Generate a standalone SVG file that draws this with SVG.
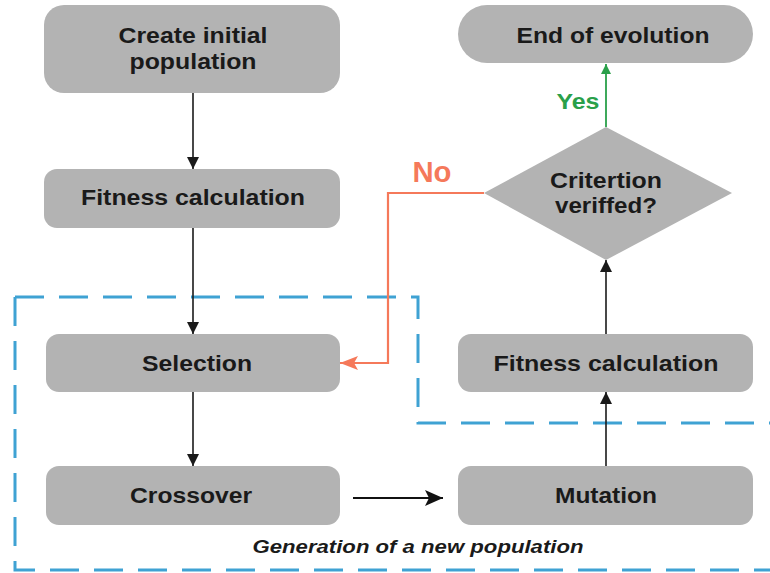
<svg xmlns="http://www.w3.org/2000/svg" width="770" height="573" viewBox="0 0 770 573">
<defs>
<marker id="ah" markerUnits="userSpaceOnUse" markerWidth="12" markerHeight="12" viewBox="0 0 10 10" refX="10" refY="5" orient="auto">
<path d="M0,0 L10,5 L0,10 z" fill="#1a1a1a"/>
</marker>
<marker id="ahBig" markerUnits="userSpaceOnUse" markerWidth="18" markerHeight="16" viewBox="0 0 18 16" refX="18" refY="8" orient="auto">
<path d="M0,0 L18,8 L0,16 L4,8 z" fill="#111"/>
</marker>
<marker id="ahNo" markerUnits="userSpaceOnUse" markerWidth="18" markerHeight="16" viewBox="0 0 18 16" refX="18" refY="8" orient="auto">
<path d="M0,1 L18,8 L0,15 L4,8 z" fill="#f5795a"/>
</marker>
<marker id="ahYes" markerUnits="userSpaceOnUse" markerWidth="10" markerHeight="12" viewBox="0 0 10 10" refX="10" refY="5" orient="auto">
<path d="M0,0 L10,5 L0,10 z" fill="#2aa04a"/>
</marker>
</defs>
<style>
.box{fill:#b3b3b3;}
.t{font-family:"Liberation Sans",Arial,sans-serif;font-weight:bold;font-size:22px;fill:#1a1a1a;text-anchor:middle;}
.dash{fill:none;stroke:#3fa2d3;stroke-width:3;stroke-dasharray:29 15;}
.c{fill:none;stroke:#1a1a1a;stroke-width:1.6;}
</style>
<g id="group-new-population">
<path class="dash" d="M15,297 H418 V423 H775"/>
<path class="dash" d="M15,297 V570 H775"/>
<text x="418" y="553" font-family="Liberation Sans, Arial, sans-serif" font-weight="bold" font-style="italic" font-size="18" fill="#1a1a1a" text-anchor="middle" textLength="331" lengthAdjust="spacingAndGlyphs">Generation of a new population</text>
</g>
<g id="node-create">
<rect class="box" x="44" y="5" width="296" height="88" rx="20"/>
<text class="t" x="193" y="43" textLength="149" lengthAdjust="spacingAndGlyphs">Create initial</text>
<text class="t" x="193" y="69" textLength="127" lengthAdjust="spacingAndGlyphs">population</text>
</g>
<g id="node-fitness1">
<rect class="box" x="44" y="169" width="296" height="59" rx="13"/>
<text class="t" x="193" y="205" textLength="224" lengthAdjust="spacingAndGlyphs">Fitness calculation</text>
</g>
<g id="node-selection">
<rect class="box" x="46" y="334" width="294" height="58" rx="13"/>
<text class="t" x="197" y="371" textLength="110" lengthAdjust="spacingAndGlyphs">Selection</text>
</g>
<g id="node-crossover">
<rect class="box" x="46" y="466" width="294" height="59" rx="13"/>
<text class="t" x="191" y="503" textLength="122" lengthAdjust="spacingAndGlyphs">Crossover</text>
</g>
<g id="node-end">
<rect class="box" x="458" y="5" width="295" height="58" rx="29"/>
<text class="t" x="613" y="43" textLength="193" lengthAdjust="spacingAndGlyphs">End of evolution</text>
</g>
<g id="node-criterion">
<polygon class="box" points="606,127 732,193 606,260 484,193"/>
<text class="t" x="606" y="188" textLength="112" lengthAdjust="spacingAndGlyphs">Critertion</text>
<text class="t" x="606" y="213" textLength="102" lengthAdjust="spacingAndGlyphs">veriffed?</text>
</g>
<g id="node-fitness2">
<rect class="box" x="458" y="334" width="295" height="58" rx="13"/>
<text class="t" x="606" y="371" textLength="225" lengthAdjust="spacingAndGlyphs">Fitness calculation</text>
</g>
<g id="node-mutation">
<rect class="box" x="458" y="466" width="295" height="59" rx="13"/>
<text class="t" x="606" y="503" textLength="102" lengthAdjust="spacingAndGlyphs">Mutation</text>
</g>
<g id="connectors">
<line class="c" x1="193" y1="93" x2="193" y2="169" marker-end="url(#ah)"/>
<line class="c" x1="193" y1="228" x2="193" y2="334" marker-end="url(#ah)"/>
<line class="c" x1="193" y1="392" x2="193" y2="466" marker-end="url(#ah)"/>
<line x1="353" y1="498" x2="443" y2="498" stroke="#111" stroke-width="2.2" marker-end="url(#ahBig)"/>
<line class="c" x1="606" y1="466" x2="606" y2="392" marker-end="url(#ah)"/>
<line class="c" x1="606" y1="334" x2="606" y2="260" marker-end="url(#ah)"/>
<line x1="606" y1="127" x2="606" y2="64" stroke="#2aa04a" stroke-width="1.8" marker-end="url(#ahYes)"/>
<polyline points="484,193 388,193 388,363 340,363" fill="none" stroke="#f5795a" stroke-width="2.2" marker-end="url(#ahNo)"/>
<text x="578" y="109" font-family="Liberation Sans, Arial, sans-serif" font-weight="bold" font-size="22" fill="#2aa04a" text-anchor="middle" textLength="43" lengthAdjust="spacingAndGlyphs">Yes</text>
<text x="432" y="182" font-family="Liberation Sans, Arial, sans-serif" font-weight="bold" font-size="29" fill="#f5795a" text-anchor="middle" textLength="39" lengthAdjust="spacingAndGlyphs">No</text>
</g>
</svg>
